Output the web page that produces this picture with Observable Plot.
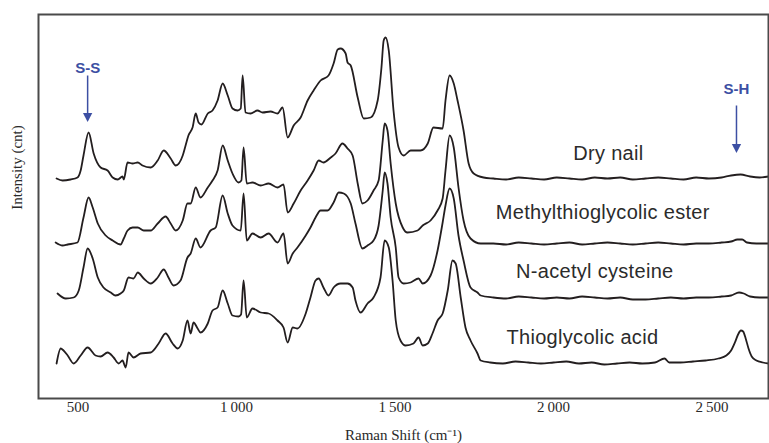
<!DOCTYPE html>
<html>
<head>
<meta charset="utf-8">
<script src="https://cdn.jsdelivr.net/npm/d3@7"></script>
<script src="https://cdn.jsdelivr.net/npm/@observablehq/plot@0.6"></script>
<style>
  html, body { margin: 0; padding: 0; background: #fff; }
</style>
</head>
<body>
<div id="chart"></div>
<script>
// ---- Data (Raman shift cm^-1, intensity in arbitrary units) ----
const xTicks = [500, 1000, 1500, 2000, 2500];
const xTickLabels = ["500", "1\u2009000", "1\u2009500", "2\u2009000", "2\u2009500"];

const seriesNames = ["Dry nail", "Methylthioglycolic ester", "N-acetyl cysteine", "Thioglycolic acid"];

const dryNail = [
  [432,220],[451,218],[476,219],[498,221],[508,228],[517,243],[533,266],[549,245],[571,231],[593,228],
  [609,221],[625,219],[640,222],[644,219],[656,236],[672,235],[688,236],[703,233],[729,231],[751,238],
  [770,248],[792,240],[808,233],[830,243],[839,253],[848,263],[861,271],[871,285],[880,276],[889,274],
  [909,285],[924,288],[940,298],[956,315],[972,303],[987,290],[1003,288],[1013,290],[1019,323],[1028,286],
  [1044,285],[1066,288],[1082,286],[1107,287],[1129,285],[1145,291],[1161,261],[1180,273],[1202,281],[1224,298],
  [1243,308],[1265,318],[1290,323],[1306,335],[1319,349],[1328,350],[1344,345],[1350,336],[1360,333],[1382,301],
  [1401,280],[1423,281],[1445,298],[1457,331],[1464,358],[1470,361],[1480,348],[1495,288],[1511,251],[1527,243],
  [1549,248],[1580,248],[1603,255],[1621,271],[1650,270],[1659,298],[1672,323],[1685,315],[1697,298],[1716,268],
  [1732,235],[1748,225],[1779,221],[1810,220],[1850,219],[1890,221],[1930,220],[1970,219],[2010,221],[2050,220],
  [2090,219],[2130,221],[2170,220],[2210,221],[2250,219],[2290,220],[2330,221],[2370,220],[2410,219],[2450,221],
  [2490,220],[2530,221],[2560,223],[2590,224],[2620,222],[2650,221],[2678,222]
];

const methylEster = [
  [429,156],[451,153],[467,154],[498,156],[517,181],[533,201],[546,191],[562,175],[587,163],[609,158],
  [634,154],[644,160],[656,168],[672,171],[688,171],[707,168],[729,168],[751,175],[776,182],[792,175],
  [808,168],[830,178],[845,195],[855,195],[871,211],[886,201],[909,211],[924,218],[940,228],[956,253],
  [972,238],[987,225],[1006,216],[1015,218],[1022,251],[1032,215],[1050,216],[1076,213],[1101,215],[1129,211],
  [1148,214],[1161,186],[1180,195],[1202,208],[1224,218],[1243,228],[1259,238],[1274,236],[1297,241],[1312,245],
  [1334,255],[1350,250],[1366,243],[1382,215],[1397,195],[1413,198],[1432,208],[1448,218],[1461,258],[1467,275],
  [1476,268],[1486,235],[1502,195],[1524,171],[1539,166],[1571,168],[1587,173],[1612,178],[1634,188],[1650,200],
  [1659,228],[1672,263],[1685,251],[1700,211],[1716,178],[1738,160],[1770,155],[1810,155],[1850,154],[1890,156],
  [1930,155],[1970,154],[2010,155],[2050,156],[2090,154],[2130,155],[2170,156],[2210,155],[2250,154],[2290,155],
  [2330,156],[2370,155],[2410,154],[2450,155],[2490,155],[2530,156],[2560,157],[2580,159],[2595,159],[2610,156],
  [2640,155],[2678,155]
];

const nAcetylCysteine = [
  [435,105],[461,100],[486,101],[502,108],[517,131],[530,150],[546,140],[562,121],[580,111],[603,106],
  [618,103],[634,105],[644,108],[659,121],[675,120],[688,126],[707,120],[729,115],[751,121],[770,129],
  [785,121],[801,113],[823,118],[845,141],[855,145],[871,160],[886,151],[918,168],[934,171],[956,203],
  [972,185],[987,173],[1013,168],[1022,205],[1032,158],[1050,165],[1076,161],[1101,165],[1129,156],[1148,165],
  [1161,135],[1177,145],[1192,151],[1218,163],[1233,171],[1249,181],[1265,188],[1287,188],[1306,196],[1322,206],
  [1338,205],[1360,195],[1375,175],[1397,150],[1413,153],[1432,158],[1448,173],[1461,208],[1467,226],[1476,215],
  [1486,181],[1502,151],[1511,121],[1527,115],[1549,116],[1574,120],[1587,115],[1612,123],[1634,148],[1650,176],
  [1659,193],[1672,210],[1685,200],[1700,163],[1716,138],[1738,111],[1760,106],[1770,103],[1810,101],[1850,100],
  [1890,102],[1930,101],[1970,100],[2010,101],[2050,100],[2090,102],[2130,101],[2170,100],[2210,101],[2250,99],
  [2290,99],[2330,100],[2370,101],[2410,100],[2450,101],[2490,101],[2530,102],[2560,103],[2585,106],[2600,105],
  [2620,102],[2650,101],[2678,101]
];

const thioglycolicAcid = [
  [432,35],[445,50],[454,48],[467,43],[486,35],[508,43],[530,51],[555,43],[571,42],[593,46],
  [612,41],[628,35],[640,38],[650,31],[659,46],[675,41],[697,45],[729,46],[754,55],[776,65],
  [798,55],[814,50],[830,58],[845,78],[855,65],[864,76],[877,70],[886,66],[909,75],[924,88],
  [940,91],[956,108],[972,95],[987,83],[1006,82],[1014,84],[1022,118],[1032,81],[1050,90],[1076,86],
  [1101,85],[1129,78],[1148,71],[1161,56],[1177,71],[1192,70],[1218,85],[1233,101],[1249,118],[1259,120],
  [1274,111],[1290,103],[1306,111],[1328,115],[1350,115],[1366,111],[1375,98],[1391,86],[1413,95],[1432,101],
  [1454,121],[1467,158],[1480,151],[1492,118],[1502,78],[1517,58],[1533,53],[1558,55],[1574,61],[1587,53],
  [1603,55],[1618,65],[1634,78],[1650,85],[1666,108],[1681,138],[1691,135],[1707,101],[1722,71],[1738,58],
  [1760,45],[1770,38],[1800,36],[1840,35],[1880,37],[1920,36],[1960,35],[2000,36],[2040,37],[2080,35],
  [2120,36],[2160,34],[2200,35],[2240,36],[2280,35],[2320,36],[2350,40],[2365,36],[2400,36],[2440,37],
  [2480,38],[2520,40],[2545,43],[2560,48],[2572,56],[2582,64],[2591,68],[2598,67],[2606,60],[2615,50],
  [2625,42],[2640,38],[2660,36],[2678,35]
];

const seriesLabelX = [2173, 2155, 2130, 2091];
const seriesLabelY = [239, 180, 121, 55];

const bandNames = ["S-S", "S-H"];
const bandX = [530, 2577];
const bandLabelY = [326, 305];
const bandArrowTop = [323, 293];
const bandArrowEnd = [285, 254];
const bandArrowHead = [281, 250];

// ---- Build tables ----
const allSeries = [dryNail, methylEster, nAcetylCysteine, thioglycolicAcid];
const spectra = allSeries.flatMap((arr, i) => arr.map(([x, y]) => ({series: seriesNames[i], x, y})));
const seriesLabels = seriesNames.map((name, i) => ({name, x: seriesLabelX[i], y: seriesLabelY[i]}));
const bands = bandNames.map((name, i) => ({
  name, x: bandX[i], ly: bandLabelY[i], y1: bandArrowTop[i], y2: bandArrowEnd[i], hy: bandArrowHead[i]
}));

const downTriangle = {
  draw(context, size) {
    const s = Math.sqrt(size) / 2;
    context.moveTo(-s * 1.05, -s);
    context.lineTo(s * 1.05, -s);
    context.lineTo(0, s);
    context.closePath();
  }
};

const blue = "#3c4fa3";
const ink = "#231e1f";

const chart = Plot.plot({
  width: 769,
  height: 443,
  marginLeft: 38,
  marginRight: 1,
  marginTop: 14,
  marginBottom: 45,
  style: {fontFamily: "Liberation Serif", fontSize: "15px", background: "#fff", color: "#2a2a2a"},
  x: {
    domain: [375, 2678],
    ticks: xTicks,
    tickSize: 0,
    tickPadding: 3,
    tickFormat: (d) => xTickLabels[xTicks.indexOf(d)],
    label: null
  },
  y: {domain: [0, 384], axis: null},
  marks: [
    Plot.line(spectra, {x: "x", y: "y", z: "series", stroke: ink, strokeWidth: 1.8, strokeLinejoin: "round", curve: "monotone-x"}),
    Plot.text(seriesLabels, {
      x: "x", y: "y", text: "name", textAnchor: "middle", lineAnchor: "bottom",
      fontFamily: "Liberation Sans", fontSize: 20, fill: "#2b2b2b"
    }),
    Plot.link(bands, {x1: "x", x2: "x", y1: "y1", y2: "y2", stroke: blue, strokeWidth: 1.5}),
    Plot.dot(bands, {x: "x", y: "hy", r: 5, symbol: downTriangle, fill: blue, stroke: "none"}),
    Plot.text(bands, {
      x: "x", y: "ly", text: "name", textAnchor: "middle", lineAnchor: "bottom",
      fontFamily: "Liberation Sans", fontWeight: "bold", fontSize: 15, fill: blue
    }),
    Plot.frame({stroke: "#4a4a4a", strokeWidth: 2}),
    Plot.text(["Intensity (cnt)"], {
      frameAnchor: "left", rotate: -90, dx: -21, dy: -39, lineAnchor: "middle", textAnchor: "middle",
      fontFamily: "Liberation Serif", fontSize: 15, fill: "#2a2a2a"
    }),
    Plot.text(["Raman Shift (cm\u207B\u00B9)"], {
      frameAnchor: "bottom", dy: 41, lineAnchor: "bottom", textAnchor: "middle",
      fontFamily: "Liberation Serif", fontSize: 15, fill: "#2a2a2a"
    })
  ]
});

d3.select(chart).selectAll("text")
  .filter(function () { return seriesNames.includes(this.textContent); })
  .style("letter-spacing", "0.3px");

document.getElementById("chart").appendChild(chart);
</script>
</body>
</html>
